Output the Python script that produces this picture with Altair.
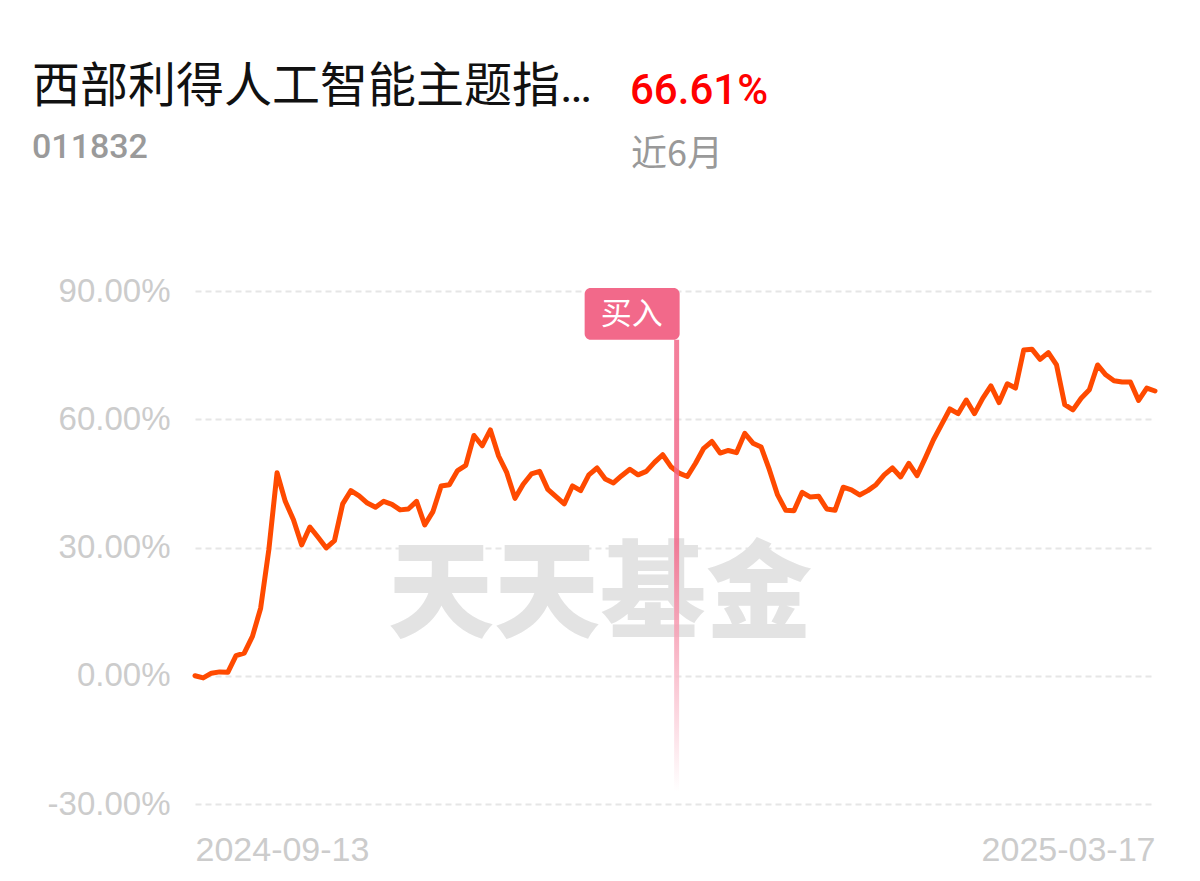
import altair as alt
import pandas as pd

# ---- data ----
values = [
    0.0, -0.5, 0.6, 0.9, 0.8, 4.7, 5.3, 9.2, 15.8, 29.5,
    47.5, 40.8, 36.5, 30.6, 34.8, 32.4, 29.9, 31.6, 40.2, 43.3,
    42.1, 40.4, 39.4, 40.8, 40.1, 38.8, 39.0, 40.8, 35.3, 38.4,
    44.4, 44.7, 48.0, 49.2, 56.2, 53.8, 57.5, 51.4, 47.5, 41.5,
    44.8, 47.2, 47.8, 43.6, 41.9, 40.2, 44.4, 43.3, 47.0, 48.6,
    46.0, 45.1, 46.8, 48.3, 47.0, 47.8, 49.9, 51.7, 48.9, 47.4,
    46.6, 49.7, 53.2, 54.8, 52.1, 52.7, 52.2, 56.7, 54.4, 53.5,
    48.2, 42.3, 38.7, 38.6, 42.9, 41.8, 42.0, 39.0, 38.7, 44.1,
    43.5, 42.3, 43.3, 44.7, 47.0, 48.6, 46.5, 49.7, 46.8, 50.9,
    55.2, 58.8, 62.4, 61.3, 64.5, 61.3, 64.9, 67.8, 63.9, 68.3,
    67.3, 76.2, 76.4, 74.0, 75.6, 72.7, 63.4, 62.2, 64.9, 66.9,
    72.7, 70.4, 69.0, 68.7, 68.7, 64.4, 67.3, 66.61,
]
date_labels = ["2024-09-13", "2025-03-17"]
y_ticks = [-30, 0, 30, 60, 90]
fund_name = "西部利得人工智能主题指…"
fund_code = "011832"
period_return = "66.61%"
period_label = "近6月"
buy_text = "买入"
buy_index = 58.7
buy_line_top = 78.6
buy_line_bottom = -27.0
buy_box_top = 90.7
buy_box_bottom = 78.6
watermark = "天天基金"

last = len(values) - 1
df = pd.DataFrame({"i": list(range(len(values))), "v": values})

x_scale = alt.Scale(domain=[0, last], nice=False, zero=False, padding=0)
y_scale = alt.Scale(domain=[-30, 90], nice=False, zero=False)

label_expr = f"datum.value == 0 ? '{date_labels[0]}' : '{date_labels[1]}'"

x_enc = alt.X(
    "i:Q", scale=x_scale,
    axis=alt.Axis(
        values=[0, last], labelExpr=label_expr, labelFlush=True,
        domain=False, ticks=False, grid=False, title=None,
        labelColor="#cccccc", labelFontSize=34, labelFont="Liberation Sans",
        labelPadding=29,
    ),
)
y_enc = alt.Y(
    "v:Q", scale=y_scale,
    axis=alt.Axis(
        values=y_ticks,
        labelExpr="(datum.value < 0 ? '-' : '') + format(abs(datum.value), '.2f') + '%'",
        domain=False, ticks=False, title=None,
        grid=True, gridColor="#e6e6e6", gridDash=[6, 4], gridWidth=2,
        labelColor="#cccccc", labelFontSize=33, labelFont="Liberation Sans",
        labelPadding=25,
    ),
)

# watermark
wm = alt.Chart(pd.DataFrame({"t": [watermark]})).mark_text(
    font="Noto Sans CJK SC", fontSize=106, fontWeight=900, color="#e3e3e3",
    align="center", baseline="middle",
).encode(text="t:N", x=alt.value(405), y=alt.value(306))

line = alt.Chart(df).mark_line(
    color="#ff4a00", strokeWidth=5, strokeJoin="round", strokeCap="round"
).encode(x=x_enc, y=y_enc)

buy_df = pd.DataFrame({
    "i": [buy_index], "top": [buy_line_top], "bottom": [buy_line_bottom],
    "btop": [buy_box_top], "bbottom": [buy_box_bottom], "t": [buy_text],
})

buy_line = alt.Chart(buy_df).mark_bar(
    size=5,
    color=alt.Gradient(
        gradient="linear",
        stops=[
            alt.GradientStop(color="#f2698a", offset=0),
            alt.GradientStop(color="#f2698a", offset=0.45),
            alt.GradientStop(color="#ffffff", offset=1),
        ],
        x1=0, x2=0, y1=0, y2=1,
    ),
    opacity=0.85,
).encode(
    x=alt.X("i:Q", scale=x_scale),
    y=alt.Y("top:Q", scale=y_scale),
    y2="bottom:Q",
)

buy_box = alt.Chart(buy_df).mark_rect(
    color="#f2698a", cornerRadius=6, xOffset=-92, x2Offset=3
).encode(
    x=alt.X("i:Q", scale=x_scale),
    x2="i:Q",
    y=alt.Y("btop:Q", scale=y_scale),
    y2="bbottom:Q",
)

buy_label = alt.Chart(buy_df).mark_text(
    font="Noto Sans CJK SC", fontSize=31, color="white",
    align="center", baseline="middle", dx=-45, dy=1,
).encode(
    x=alt.X("i:Q", scale=x_scale),
    y=alt.Y("mid:Q", scale=y_scale),
    text="t:N",
).transform_calculate(mid="(datum.btop + datum.bbottom) / 2")

# header texts (positions relative to plot origin at page (195, 291))
def header(txt, x, y, size, color, font, weight="normal"):
    return alt.Chart(pd.DataFrame({"t": [txt]})).mark_text(
        font=font, fontSize=size, color=color, fontWeight=weight,
        align="left", baseline="alphabetic",
    ).encode(text="t:N", x=alt.value(x), y=alt.value(y))

h1 = header(fund_name, -163, -189, 48, "#111111", "Roboto, 'Noto Sans CJK SC'")
h2 = header(period_return, 435, -187, 42, "#ff0000", "Roboto", 500)
h3 = header(fund_code, -163, -133, 34, "#9a9a9a", "Roboto", 500)
h4 = header(period_label, 436, -125, 36, "#999999", "Noto Sans CJK SC")

chart = alt.layer(
    wm, line, buy_line, buy_box, buy_label, h1, h2, h3, h4
).properties(
    width=960, height=513,
    autosize=alt.AutoSizeParams(type="none"),
    padding={"left": 187, "top": 283, "right": 37, "bottom": 69},
    background="white",
).configure_view(stroke=None)

chart.save("out.html", embed_options={"renderer": "svg", "actions": False})
